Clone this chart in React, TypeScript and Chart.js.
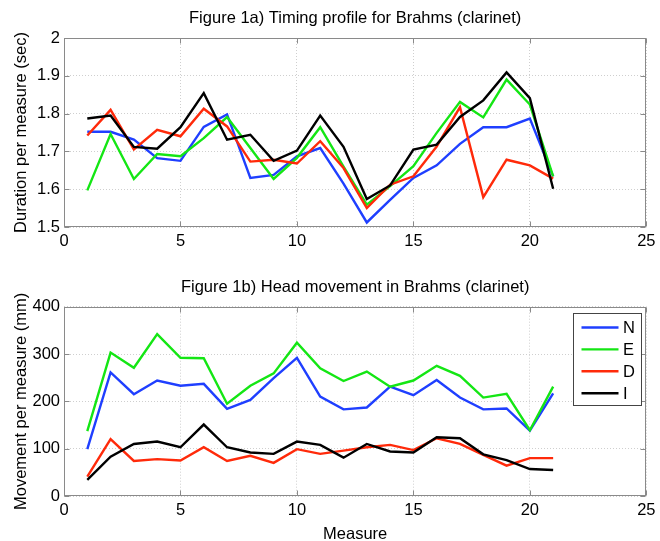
import React, { useEffect, useRef } from 'react';
import { Chart, registerables } from 'chart.js';

Chart.register(...registerables);

const measures = [1, 2, 3, 4, 5, 6, 7, 8, 9, 10, 11, 12, 13, 14, 15, 16, 17, 18, 19, 20, 21];

const timingN = [1.752, 1.752, 1.731, 1.682, 1.675, 1.765, 1.798, 1.630, 1.638, 1.687, 1.709, 1.615, 1.512, 1.572, 1.630, 1.663, 1.720, 1.764, 1.764, 1.787, 1.634];
const timingE = [1.597, 1.746, 1.627, 1.693, 1.687, 1.735, 1.791, 1.709, 1.627, 1.683, 1.764, 1.660, 1.559, 1.608, 1.661, 1.749, 1.831, 1.790, 1.890, 1.824, 1.634];
const timingD = [1.742, 1.810, 1.705, 1.757, 1.740, 1.813, 1.766, 1.673, 1.678, 1.668, 1.727, 1.656, 1.550, 1.612, 1.634, 1.713, 1.817, 1.579, 1.678, 1.663, 1.628];
const timingI = [1.787, 1.795, 1.712, 1.707, 1.764, 1.854, 1.731, 1.744, 1.675, 1.702, 1.795, 1.712, 1.574, 1.610, 1.705, 1.718, 1.791, 1.835, 1.909, 1.841, 1.601];

const moveN = [99, 261, 215, 244, 233, 237, 184, 203, 249, 292, 210, 183, 187, 231, 213, 245, 208, 183, 185, 138, 217];
const moveE = [137, 303, 271, 342, 292, 291, 195, 233, 259, 324, 270, 243, 263, 231, 244, 275, 254, 208, 216, 139, 231];
const moveD = [41, 120, 74, 78, 75, 103, 74, 85, 70, 99, 89, 96, 103, 108, 97, 122, 110, 87, 64, 80, 80];
const moveI = [34, 83, 110, 115, 103, 151, 103, 92, 89, 115, 108, 81, 110, 94, 92, 124, 122, 88, 76, 57, 55];

const seriesLabels = ['N', 'E', 'D', 'I'];
const seriesColors = ['#1f3fff', '#14e614', '#ff2a0a', '#000000'];

const xTicks = [0, 5, 10, 15, 20, 25];
const timingTicks = [1.5, 1.6, 1.7, 1.8, 1.9, 2];
const moveTicks = [0, 100, 200, 300, 400];

const FONT = "'Liberation Sans', Arial, Helvetica, sans-serif";
const FS = 16.5;
const FRAME = '#8a8a8a';

const framePlugin = {
  id: 'frame',
  afterDatasetsDraw(chart: any) {
    const { ctx, chartArea } = chart;
    const xs = chart.scales.x;
    const ys = chart.scales.y;
    const L = Math.round(chartArea.left) + 0.5;
    const R = Math.round(chartArea.right) - 0.5;
    const T = Math.round(chartArea.top) + 0.5;
    const B = Math.round(chartArea.bottom) - 0.5;
    ctx.save();
    ctx.strokeStyle = FRAME;
    ctx.lineWidth = 1;
    ctx.setLineDash([]);
    ctx.beginPath();
    xs.ticks.forEach((t: any) => {
      const p = Math.round(xs.getPixelForValue(t.value)) + 0.5;
      ctx.moveTo(p, B);
      ctx.lineTo(p, B - 5);
      ctx.moveTo(p, T);
      ctx.lineTo(p, T + 5);
    });
    ys.ticks.forEach((t: any) => {
      const p = Math.round(ys.getPixelForValue(t.value)) + 0.5;
      ctx.moveTo(L, p);
      ctx.lineTo(L + 5, p);
      ctx.moveTo(R, p);
      ctx.lineTo(R - 5, p);
    });
    ctx.stroke();
    ctx.strokeRect(L, T, R - L, B - T);
    ctx.restore();
  },
};

const legendPlugin = {
  id: 'boxLegend',
  afterDraw(chart: any, _args: any, opts: any) {
    if (!opts || !opts.show) return;
    const { ctx, chartArea } = chart;
    const w = 68;
    const h = 92;
    const left = Math.round(chartArea.right - 5 - w) + 0.5;
    const top = Math.round(chartArea.top + 6) + 0.5;
    ctx.save();
    ctx.fillStyle = '#ffffff';
    ctx.fillRect(left, top, w, h);
    ctx.strokeStyle = '#444444';
    ctx.lineWidth = 1;
    ctx.strokeRect(left, top, w, h);
    ctx.font = `${FS}px ${FONT}`;
    ctx.textBaseline = 'middle';
    ctx.textAlign = 'left';
    seriesLabels.forEach((lab, i) => {
      const y = top + 14 + i * 21.9;
      ctx.strokeStyle = seriesColors[i];
      ctx.lineWidth = 2.4;
      ctx.beginPath();
      ctx.moveTo(left + 8, y);
      ctx.lineTo(left + 45, y);
      ctx.stroke();
      ctx.fillStyle = '#000000';
      ctx.fillText(lab, left + 49.5, y + 1);
    });
    ctx.restore();
  },
};

function makeDatasets(series: number[][]) {
  return series.map((vals, i) => ({
    label: seriesLabels[i],
    data: measures.map((m, k) => ({ x: m, y: vals[k] })),
    borderColor: seriesColors[i],
    backgroundColor: seriesColors[i],
    borderWidth: 2.4,
    pointRadius: 0,
    tension: 0,
    fill: false,
    order: series.length - i,
  }));
}

function makeOptions(cfg: {
  title: string;
  titlePad: { top: number; bottom: number };
  yTitle: string;
  yTicks: number[];
  yMin: number;
  yMax: number;
  xTitle?: string;
  xHeight: number;
  legend: boolean;
}) {
  const gridCommon = {
    color: '#cfcfcf',
    lineWidth: 1,
    drawTicks: false,
    borderDash: [1, 2],
  };
  return {
    responsive: false,
    animation: false as const,
    layout: { padding: { left: 0, right: 13, top: 0, bottom: 0 } },
    plugins: {
      legend: { display: false },
      tooltip: { enabled: false },
      title: {
        display: true,
        text: cfg.title,
        fullSize: false,
        color: '#000000',
        font: { family: FONT, size: FS, weight: 'normal' as const, lineHeight: 1.2 },
        padding: cfg.titlePad,
      },
      boxLegend: { show: cfg.legend },
    },
    scales: {
      x: {
        type: 'linear' as const,
        min: 0,
        max: 25,
        afterBuildTicks: (s: any) => {
          s.ticks = xTicks.map((v) => ({ value: v }));
        },
        afterFit: (s: any) => {
          s.height = cfg.xHeight;
        },
        grid: gridCommon,
        border: { display: false, dash: [1, 2] },
        ticks: {
          color: '#000000',
          font: { family: FONT, size: FS, lineHeight: 1.2 },
          padding: 4.5,
          maxRotation: 0,
          autoSkip: false,
          callback: (v: any) => String(v),
        },
        title: cfg.xTitle
          ? {
              display: true,
              text: cfg.xTitle,
              color: '#000000',
              font: { family: FONT, size: FS, lineHeight: 0.85 },
              padding: { top: 0, bottom: 0 },
            }
          : { display: false },
      },
      y: {
        type: 'linear' as const,
        min: cfg.yMin,
        max: cfg.yMax,
        afterBuildTicks: (s: any) => {
          s.ticks = cfg.yTicks.map((v) => ({ value: v }));
        },
        afterFit: (s: any) => {
          s.width = 64;
        },
        grid: gridCommon,
        border: { display: false, dash: [1, 2] },
        ticks: {
          color: '#000000',
          font: { family: FONT, size: FS, lineHeight: 1.2 },
          padding: 4,
          autoSkip: false,
          callback: (v: any) => String(Math.round(v * 10) / 10),
        },
        title: {
          display: true,
          text: cfg.yTitle,
          color: '#000000',
          font: { family: FONT, size: FS, lineHeight: 1.2 },
          padding: { top: 12, bottom: 0 },
        },
      },
    },
  };
}

export default function App() {
  const topRef = useRef<HTMLCanvasElement>(null);
  const botRef = useRef<HTMLCanvasElement>(null);

  useEffect(() => {
    Chart.defaults.font.family = FONT;
    const c1 = new Chart(topRef.current as HTMLCanvasElement, {
      type: 'line',
      data: { datasets: makeDatasets([timingN, timingE, timingD, timingI]) as any },
      options: makeOptions({
        title: 'Figure 1a) Timing profile for Brahms (clarinet)',
        titlePad: { top: 9, bottom: 9.2 },
        yTitle: 'Duration per measure (sec)',
        yTicks: timingTicks,
        yMin: 1.5,
        yMax: 2,
        xHeight: 43,
        legend: false,
      }) as any,
      plugins: [framePlugin, legendPlugin],
    });
    const c2 = new Chart(botRef.current as HTMLCanvasElement, {
      type: 'line',
      data: { datasets: makeDatasets([moveN, moveE, moveD, moveI]) as any },
      options: makeOptions({
        title: 'Figure 1b) Head movement in Brahms (clarinet)',
        titlePad: { top: 7.2, bottom: 9.7 },
        yTitle: 'Movement per measure (mm)',
        yTicks: moveTicks,
        yMin: 0,
        yMax: 400,
        xTitle: 'Measure',
        xHeight: 45,
        legend: true,
      }) as any,
      plugins: [framePlugin, legendPlugin],
    });
    return () => {
      c1.destroy();
      c2.destroy();
    };
  }, []);

  return (
    <div style={{ position: 'absolute', left: 0, top: 0, width: 660, height: 541, background: '#ffffff' }}>
      <canvas ref={topRef} width={660} height={270} style={{ display: 'block' }} />
      <canvas ref={botRef} width={660} height={271} style={{ display: 'block' }} />
    </div>
  );
}
